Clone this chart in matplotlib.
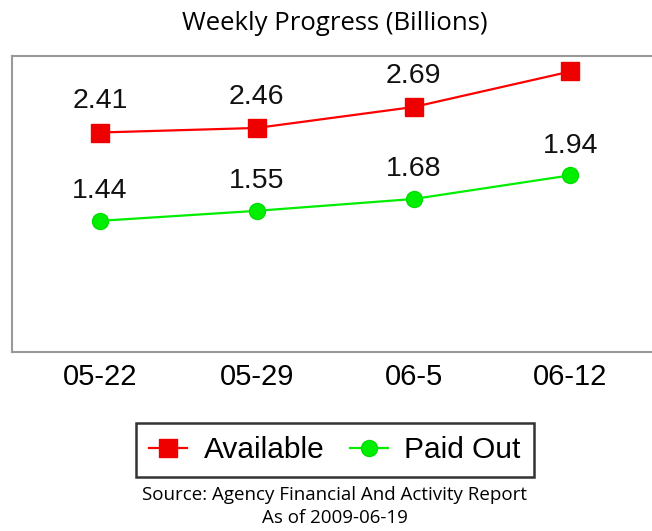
import matplotlib.pyplot as plt

weeks = ['05-22', '05-29', '06-5', '06-12']
available = [2.41, 2.46, 2.69, 3.08]
paid_out = [1.44, 1.55, 1.68, 1.94]

plt.rcParams['font.family'] = ['Liberation Sans', 'DejaVu Sans']

fig = plt.figure(figsize=(6.52, 5.31), dpi=100)
# axes in pixel terms: left 12, right 652, top 56, bottom 352
ax = fig.add_axes([12 / 652, 1 - 352 / 531, 1 - 12 / 652, (352 - 56) / 531])

x = list(range(len(weeks)))
ax.plot(x, available, color='#ff0000', lw=1.6, marker='s', ms=12.5,
        mfc='#ee0000', mec='#ee0000', label='Available', clip_on=False)
ax.plot(x, paid_out, color='#00ee00', lw=1.6, marker='o', ms=11.5,
        mfc='#00ee00', mec='#00dd00', label='Paid Out', clip_on=False)

for xi, v in zip(x, available):
    if v < 3.0:
        ax.annotate(f'{v:.2f}', (xi, v), xytext=(0, 13), textcoords='offset points',
                    ha='center', va='bottom', fontsize=20.5, color='#111111')
for xi, v in zip(x, paid_out):
    ax.annotate(f'{v:.2f}', (xi, v), xytext=(0, 12), textcoords='offset points',
                ha='center', va='bottom', fontsize=20.5, color='#111111')

ax.set_xlim(-0.56, 3.52)
ax.set_ylim(0, 3.25)
ax.set_xticks(x)
ax.set_xticklabels(weeks, fontsize=21)
ax.set_yticks([])
ax.tick_params(axis='x', length=0, pad=8)
for side in ['left', 'top', 'bottom']:
    ax.spines[side].set_color('#999999')
    ax.spines[side].set_linewidth(1.5)
ax.spines['right'].set_visible(False)

cx = 335 / 652
fig.text(cx, 1 - 23 / 531, 'Weekly Progress (Billions)', ha='center', va='center',
         fontsize=18.5, family='Open Sans')

leg = fig.legend(loc='center', bbox_to_anchor=(cx, 1 - 450 / 531), ncol=2,
                 fontsize=21.5, frameon=True, fancybox=False, edgecolor='black',
                 handlelength=1.27, columnspacing=0.85, handletextpad=0.55,
                 borderpad=0.45, borderaxespad=0)
leg.get_frame().set_linewidth(1.8)

fig.text(cx, 1 - 495 / 531, 'Source: Agency Financial And Activity Report', ha='center',
         va='center', fontsize=13.5, family='Open Sans')
fig.text(cx, 1 - 518 / 531, 'As of 2009-06-19', ha='center', va='center',
         fontsize=13.5, family='Open Sans')

fig.savefig('out.png', dpi=100)
